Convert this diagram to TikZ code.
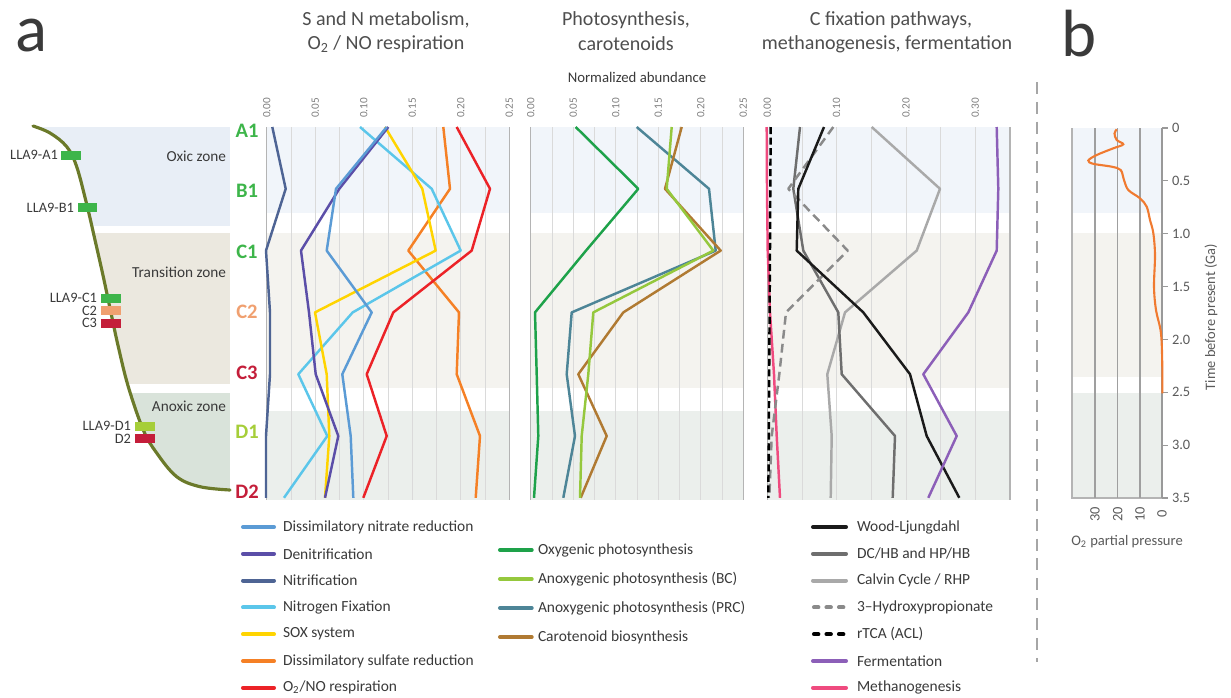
\documentclass[tikz,border=0pt]{standalone}
\usepackage{fontspec}
\setmainfont{Carlito}
\definecolor{txt}{HTML}{3A3A3A}
\definecolor{ticktxt}{HTML}{808080}
\definecolor{gridc}{HTML}{DADADA}
\definecolor{edgec}{HTML}{B4B4B4}
\definecolor{oxicP}{HTML}{F1F5FA}
\definecolor{transP}{HTML}{F4F3EF}
\definecolor{anoxP}{HTML}{EBEFEC}
\definecolor{oxicL}{HTML}{E8EEF6}
\definecolor{transL}{HTML}{EBE8DF}
\definecolor{anoxL}{HTML}{D9E3DA}
\definecolor{olive}{HTML}{6B7A2A}
\definecolor{gA}{HTML}{3DB54A}
\definecolor{gD}{HTML}{A6CE39}
\definecolor{oC}{HTML}{F0A070}
\definecolor{rC}{HTML}{C41E3A}
\definecolor{cNR}{HTML}{5B9BD5}
\definecolor{cDN}{HTML}{5B4EA8}
\definecolor{cNI}{HTML}{4E6494}
\definecolor{cNF}{HTML}{5BC6EA}
\definecolor{cSX}{HTML}{FFD400}
\definecolor{cSR}{HTML}{F58025}
\definecolor{cRE}{HTML}{EC2227}
\definecolor{cOX}{HTML}{1EA24A}
\definecolor{cBC}{HTML}{95C83D}
\definecolor{cPR}{HTML}{4D8597}
\definecolor{cCA}{HTML}{B07A32}
\definecolor{cWL}{HTML}{1A1A1A}
\definecolor{cDC}{HTML}{6E6E6E}
\definecolor{cCV}{HTML}{A9A9A9}
\definecolor{cHP}{HTML}{8A8A8A}
\definecolor{cFE}{HTML}{8C5FB8}
\definecolor{cME}{HTML}{EF4B7F}
\definecolor{cO2}{HTML}{F07A30}
\newcommand\chartline[8]{\draw[#1] (#2,127) -- (#3,188.8) -- (#4,250.6) -- (#5,312.4) -- (#6,374.2) -- (#7,436) -- (#8,497.8);}
\newcommand\zonebg[2]{%
  \fill[oxicP] (#1,127) rectangle (#2,213);
  \fill[transP] (#1,233) rectangle (#2,388);
  \fill[anoxP] (#1,411) rectangle (#2,500);}
\begin{document}
\begin{tikzpicture}[x=0.02cm,y=-0.02cm,
  every node/.style={inner sep=0pt,outer sep=0pt,text=txt},
  ser/.style={line width=1.4pt,line join=round},
  grid/.style={gridc,line width=0.5pt},
  edge/.style={edgec,line width=0.7pt},
  tick/.style={rotate=90,text=ticktxt,font=\fontsize{6.4}{7}\selectfont},
  title/.style={font=\fontsize{11.4}{13}\selectfont,text=txt!90!white},
  lbl/.style={font=\fontsize{8.2}{9}\selectfont,anchor=east},
  zone/.style={font=\fontsize{8.7}{10}\selectfont,anchor=east},
  row/.style={font=\fontsize{11.7}{13}\selectfont\bfseries},
  box/.style={minimum width=0.4cm,minimum height=0.18cm},
  leg/.style={font=\fontsize{8.8}{10}\selectfont,anchor=west},
  sw/.style={line width=2.3pt,line cap=round},
  swd/.style={line width=2.3pt,line cap=round,dash pattern=on 2.5pt off 4.6pt},
  big/.style={font=\fontsize{38}{40}\selectfont}]
\useasboundingbox (0,0) rectangle (1231,697);

% ---------- panel labels ----------
\node[big] (pa) at (31,36) {a};
\node[big] (pb) at (1079,34) {b};

% ---------- left profile ----------
\begin{scope}
\clip plot[smooth,tension=0.6] coordinates {(33,126) (50,133) (66.7,146.7) (76.7,166.7) (87.3,206.7) (95,240) (103.3,276.7) (111,313) (118.3,346.7) (128.3,386.7) (143.3,430) (156.7,453) (176.7,476.7) (200,486.7) (230,490)} -- (230,120) -- (33,120) -- cycle;
\fill[oxicL] (20,127) rectangle (230,226);
\fill[transL] (20,233) rectangle (230,384);
\fill[anoxL] (20,393) rectangle (230,495);
\end{scope}
\draw[olive,line width=1.8pt,line cap=round] plot[smooth,tension=0.6] coordinates {(33,126) (50,133) (66.7,146.7) (76.7,166.7) (87.3,206.7) (95,240) (103.3,276.7) (111,313) (118.3,346.7) (128.3,386.7) (143.3,430) (156.7,453) (176.7,476.7) (200,486.7) (230,490)};
\node[zone] (zox) at (226,156) {Oxic zone};
\node[zone] (ztr) at (226,272) {Transition zone};
\node[zone] (zan) at (226,406) {Anoxic zone};
\node[box,fill=gA] (bA1) at (71,155) {};
\node[lbl] (lA1) at (58,155) {LLA9-A1};
\node[box,fill=gA] (bB1) at (87.5,207.5) {};
\node[lbl] (lB1) at (74,207.5) {LLA9-B1};
\node[box,fill=gA] (bC1) at (111,298) {};
\node[lbl] (lC1) at (97,298) {LLA9-C1};
\node[box,fill=oC] (bC2) at (111,310.5) {};
\node[lbl] (lC2) at (97,310.5) {C2};
\node[box,fill=rC] (bC3) at (111,323) {};
\node[lbl] (lC3) at (97,323) {C3};
\node[box,fill=gD] (bD1) at (145,426) {};
\node[lbl] (lD1) at (131,426) {LLA9-D1};
\node[box,fill=rC] (bD2) at (145,438.5) {};
\node[lbl] (lD2) at (131,438.5) {D2};

% row labels
\node[row,text=gA] (rA1) at (247,131) {A1};
\node[row,text=gA] (rB1) at (247,191) {B1};
\node[row,text=gA] (rC1) at (247,252) {C1};
\node[row,text=oC] (rC2) at (247,312) {C2};
\node[row,text=rC] (rC3) at (247,373) {C3};
\node[row,text=gD] (rD1) at (247,432) {D1};
\node[row,text=rC] (rD2) at (247,492) {D2};

% ---------- titles ----------
\node[title] (t1a) at (386,20) {S and N metabolism,};
\node[title] (t1b) at (386,44) {O\textsubscript{2} / NO respiration};
\node[title] (t2a) at (626,20) {Photosynthesis,};
\node[title] (t2b) at (626,44) {carotenoids};
\node[title] (t3a) at (891,20) {C fixation pathways,};
\node[title] (t3b) at (887,44) {methanogenesis, fermentation};
\node[font=\fontsize{8.4}{10}\selectfont] (nab) at (637,77) {Normalized abundance};

% ---------- panel 1 ----------
\zonebg{266.7}{509.3}
\foreach \i in {1,...,9} \draw[grid] ({266.7+\i*24.26},127) -- ({266.7+\i*24.26},500);
\draw[edge] (266.7,127) -- (266.7,500);
\draw[edge] (509.3,127) -- (509.3,500);
\foreach \v [count=\i from 0] in {0.00,0.05,0.10,0.15,0.20,0.25}
  \node[tick] (p1t\i) at ({266.7+\i*48.52},108) {\v};
\chartline{ser,cNI}{272.3}{285.7}{266}{270}{270}{266}{266}
\chartline{ser,cSR}{443.3}{450}{408.3}{459}{456.7}{480}{475.7}
\chartline{ser,cRE}{456.7}{490}{471.7}{393.3}{366.7}{386.7}{363.3}
\chartline{ser,cNF}{360}{431.7}{460.7}{352.7}{298.3}{327.3}{284}
\chartline{ser,cSX}{385}{422.3}{435.7}{315}{326.7}{329.3}{325}
\chartline{ser,cDN}{388.3}{339.3}{301}{309}{315.7}{338.3}{325}
\chartline{ser,cNR}{386.7}{336}{326.7}{371.7}{342.3}{350.7}{353.3}

% ---------- panel 2 ----------
\zonebg{530.7}{743.3}
\foreach \i in {1,...,9} \draw[grid] ({530.7+\i*21.26},127) -- ({530.7+\i*21.26},500);
\draw[edge] (530.7,127) -- (530.7,500);
\draw[edge] (743.3,127) -- (743.3,500);
\foreach \v [count=\i from 0] in {0.00,0.05,0.10,0.15,0.20,0.25}
  \node[tick] (p2t\i) at ({530.7+\i*42.52},108) {\v};
\chartline{ser,cOX}{575.7}{638.3}{586}{535}{536.7}{538.3}{534}
\chartline{ser,cPR}{636.7}{709}{715.7}{571.7}{566.7}{575}{563.3}
\chartline{ser,cCA}{681.7}{665}{720.7}{623.3}{578.3}{606.7}{580.7}
\chartline{ser,cBC}{671.7}{666.7}{713.3}{593.3}{588.3}{581.7}{580}

% ---------- panel 3 ----------
\zonebg{767.3}{1010}
\foreach \i in {1,...,6} \draw[grid] ({767.3+\i*34.67},127) -- ({767.3+\i*34.67},500);
\draw[edge] (767.3,127) -- (767.3,500);
\draw[edge] (1010,127) -- (1010,500);
\foreach \v [count=\i from 0] in {0.00,0.10,0.20,0.30}
  \node[tick] (p3t\i) at ({767.3+\i*69.33},108) {\v};
\chartline{ser,cME}{766.7}{767}{767.7}{770}{774}{776.7}{780}
\chartline{ser,cCV}{871.7}{940}{916.7}{845}{827.3}{831.7}{830.7}
\chartline{ser,cDC}{800}{793.3}{803.3}{838.3}{841.7}{895}{892.7}
\chartline{ser,cHP,dash pattern=on 5pt off 3pt}{833.3}{788.3}{847.7}{786}{779.3}{771.7}{769.3}
\chartline{ser,black,dash pattern=on 4pt off 2pt}{770.7}{770.3}{770}{769.6}{769.2}{768.8}{768.3}
\chartline{ser,cWL}{824}{798.3}{796.7}{863.3}{910}{926.7}{959.3}
\chartline{ser,cFE}{996.7}{998.3}{996.7}{968.3}{923.3}{956.7}{928.3}

% ---------- separator ----------
\coordinate (sepT) at (1037,82);
\coordinate (sepB) at (1037,662);
\draw[gray!70,line width=1.1pt,dash pattern=on 6.8pt off 4.5pt] (sepT) -- (sepB);

% ---------- panel b ----------
\fill[oxicP] (1072,128) rectangle (1162,213);
\fill[transP] (1072,233) rectangle (1162,377);
\fill[anoxP] (1072,393) rectangle (1162,498);
\draw[edge] (1072,128) -- (1072,498) -- (1162,498);
\foreach \x in {1095,1117.7,1140} \draw[gray!75,line width=0.7pt] (\x,128) -- (\x,498);
\draw[gray!80,line width=0.8pt] (1162,128) -- (1162,498);
\foreach \t [count=\i from 0] in {0,0.5,1.0,1.5,2.0,2.5,3.0,3.5} {
  \draw[gray!80,line width=0.7pt] (1162,{128+\i*52.86}) -- (1168,{128+\i*52.86});
  \node[anchor=west,text=ticktxt!70!black,font=\fontsize{8.2}{9}\selectfont] (bt\i) at (1172,{128+\i*52.86}) {\t};
}
\foreach \v/\x in {30/1095,20/1117.7,10/1140,0/1162}
  \node[rotate=90,text=ticktxt!70!black,font=\fontsize{8.2}{9}\selectfont] (bx\v) at (\x,514) {\v};
\node[rotate=90,text=ticktxt!70!black,font=\fontsize{8.2}{9}\selectfont] (tbp) at (1211,317) {Time before present (Ga)};
\node[font=\fontsize{8.3}{10}\selectfont,text=ticktxt!70!black] (o2p) at (1127,542) {O\textsubscript{2} partial pressure};
\draw[cO2,line width=1.2pt] plot[smooth,tension=0.55] coordinates {(1116.7,129.3) (1114.5,133.5) (1116.7,140) (1123.3,144.3) (1113.3,148.3) (1096.7,155) (1088.3,160.5) (1093.3,163.8) (1111.7,166.7) (1120.7,170) (1124,180) (1128.3,190) (1140,198.3) (1146.7,206.7) (1150,220) (1153.3,233) (1155,255) (1154,286.7) (1156,310) (1161,333.3) (1162.3,366.7) (1162.3,393.3)};

% ---------- legend ----------
\foreach \c/\t [count=\i from 0] in {cNR/{Dissimilatory nitrate reduction},cDN/{Denitrification},cNI/{Nitrification},cNF/{Nitrogen Fixation},cSX/{SOX system},cSR/{Dissimilatory sulfate reduction},cRE/{O\textsubscript{2}/NO respiration}} {
  \draw[sw,\c] (243,{527+\i*26.8}) -- (274,{527+\i*26.8});
  \node[leg] (la\i) at (283,{527+\i*26.8}) {\t};
}
\foreach \c/\t [count=\i from 0] in {cOX/{Oxygenic photosynthesis},cBC/{Anoxygenic photosynthesis (BC)},cPR/{Anoxygenic photosynthesis (PRC)},cCA/{Carotenoid biosynthesis}} {
  \draw[sw,\c] (500,{550+\i*29}) -- (531.7,{550+\i*29});
  \node[leg] (lb\i) at (538,{550+\i*29}) {\t};
}
\draw[sw,cWL] (813,527) -- (846,527);
\node[leg] (lc0) at (857,527) {Wood-Ljungdahl};
\draw[sw,cDC] (813,553.8) -- (846,553.8);
\node[leg] (lc1) at (857,553.8) {DC/HB and HP/HB};
\draw[sw,cCV] (813,580.6) -- (846,580.6);
\node[leg] (lc2) at (857,580.6) {Calvin Cycle / RHP};
\draw[swd,cHP] (814,607.4) -- (846,607.4);
\node[leg] (lc3) at (857,607.4) {3–Hydroxypropionate};
\draw[swd,black] (814,634.2) -- (846,634.2);
\node[leg] (lc4) at (857,634.2) {rTCA (ACL)};
\draw[sw,cFE] (813,661) -- (846,661);
\node[leg] (lc5) at (857,661) {Fermentation};
\draw[sw,cME] (813,687.8) -- (846,687.8);
\node[leg] (lc6) at (857,687.8) {Methanogenesis};
\end{tikzpicture}
\end{document}
